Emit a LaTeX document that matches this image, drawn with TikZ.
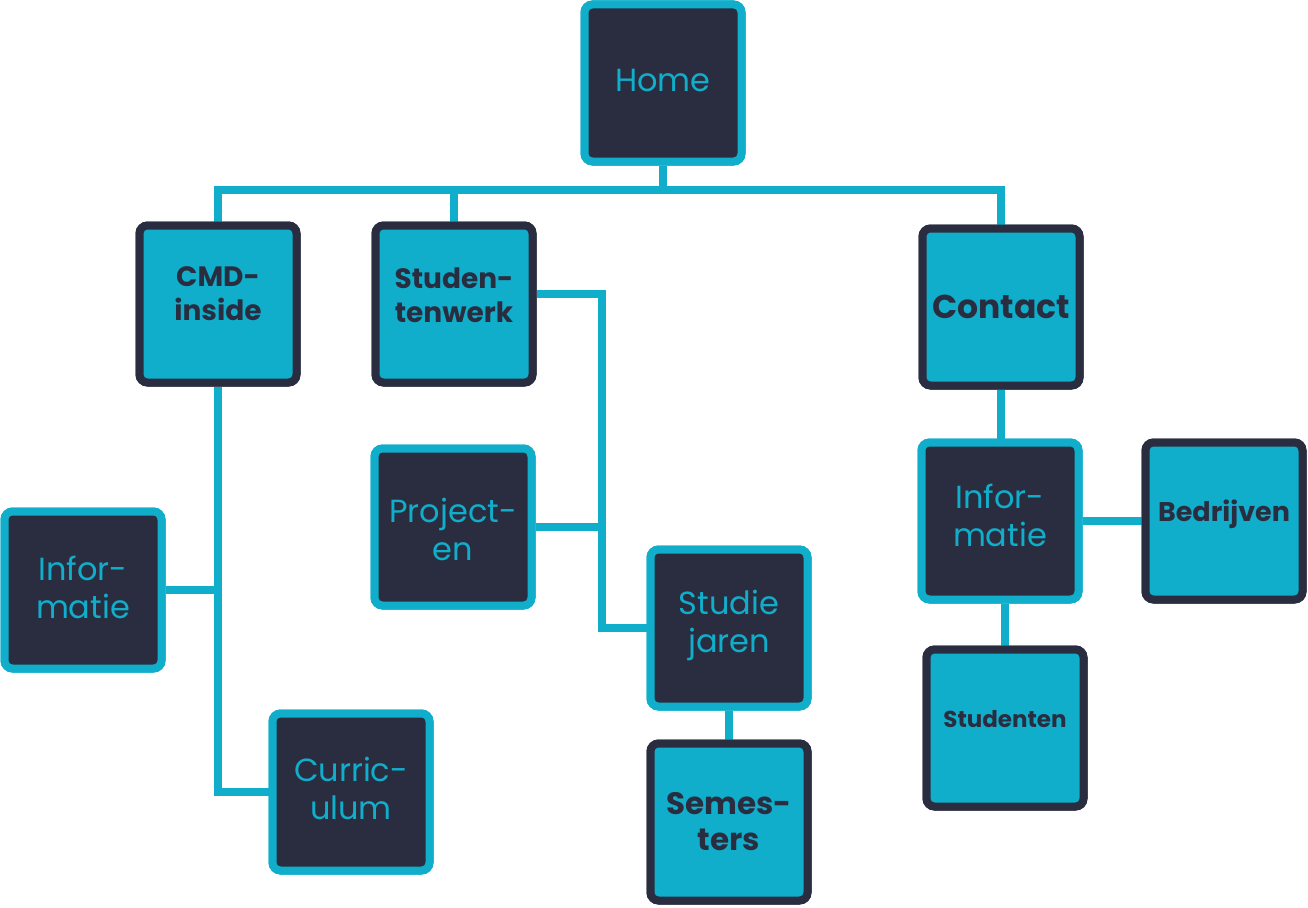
\documentclass[tikz,border=0pt]{standalone}
\usepackage{fontspec}
\setmainfont{Poppins}
\definecolor{cy}{HTML}{10AECB}
\definecolor{dk}{HTML}{2A2D40}
\begin{document}
\begin{tikzpicture}[x=1pt,y=-1pt,
  box/.style={rectangle,rounded corners=8pt,line width=8pt,minimum width=157pt,minimum height=157pt,inner sep=0pt},
  darkbox/.style={box,fill=dk,draw=cy},
  cybox/.style={box,fill=cy,draw=dk},
  lt/.style={text=cy,align=center,font=\fontsize{32}{38}\selectfont,inner sep=0pt},
  bt/.style={text=dk,align=center,font=\bfseries\fontsize{28}{34}\selectfont,inner sep=0pt},
  conn/.style={draw=cy,line width=8pt}]
\fill[white] (0,0) rectangle (1308,907);
\useasboundingbox (0,0) rectangle (1308,907);
% box positions
\node[darkbox] (home) at (663,83) {};
\node[cybox] (cmd) at (218,304) {};
\node[cybox] (stw) at (454,304) {};
\node[cybox] (contact) at (1001,307) {};
\node[darkbox] (info1) at (83,590) {};
\node[darkbox] (proj) at (453,527) {};
\node[darkbox] (sj) at (729,628) {};
\node[cybox] (sem) at (729,822) {};
\node[darkbox] (curr) at (351,792) {};
\node[darkbox] (info2) at (1000,521) {};
\node[cybox] (bedr) at (1224,521) {};
\node[cybox] (stud) at (1005,728) {};
% connectors
\coordinate (busy) at (0,190);
\path[conn] (cmd.north) -- (cmd.north |- busy) -- (contact.north |- busy) -- (contact.north);
\path[conn] (stw.north) -- (stw.north |- busy);
\path[conn] (home.south) -- (home.south |- busy);
\path[conn] (cmd.south) |- (curr.west);
\path[conn] (info1.east) -- (info1.east -| cmd.south);
\path[conn] ([yshift=10pt]stw.east) -- ++(65,0) coordinate (vx) |- (sj.west);
\path[conn] (proj.east) -- (proj.east -| vx);
\path[conn] (sj.south) -- (sem.north);
\path[conn] (contact.south) -- (contact.south |- info2.north);
\path[conn] (info2.east) -- (bedr.west);
\path[conn] (stud.north |- info2.south) -- (stud.north);
% boxes on top of connectors
\node[darkbox] at (home) {};
\node[cybox] at (cmd) {};
\node[cybox] at (stw) {};
\node[cybox] at (contact) {};
\node[darkbox] at (info1) {};
\node[darkbox] at (proj) {};
\node[darkbox] at (sj) {};
\node[cybox] at (sem) {};
\node[darkbox] at (curr) {};
\node[darkbox] at (info2) {};
\node[cybox] at (bedr) {};
\node[cybox] at (stud) {};
% texts
\node[lt] (thome) at ([yshift=3pt]home.center) {Home};
\node[bt] (tcmd) at ([yshift=10pt]cmd.center) {CMD-\\inside};
\node[bt] (tstw) at ([yshift=9pt]stw.center) {Studen-\\tenwerk};
\node[bt,font=\bfseries\fontsize{33}{38}\selectfont] (tcontact) at (contact.center) {Contact};
\node[lt] (tinfo1) at ([yshift=3pt]info1.center) {Infor-\\matie};
\node[lt] (tproj) at ([yshift=-2pt]proj.center) {Project-\\en};
\node[lt] (tsj) at ([yshift=3pt]sj.center) {Studie\\jaren};
\node[bt,font=\bfseries\fontsize{31}{36}\selectfont] (tsem) at (sem.center) {Semes-\\ters};
\node[lt] (tcurr) at ([yshift=4pt]curr.center) {Curric-\\ulum};
\node[lt] (tinfo2) at ([yshift=6pt]info2.center) {Infor-\\matie};
\node[bt,font=\bfseries\fontsize{27}{32}\selectfont] (tbedr) at ([yshift=7pt]bedr.center) {Bedrijven};
\node[bt,font=\bfseries\fontsize{23}{28}\selectfont] (tstud) at ([yshift=9pt]stud.center) {Studenten};
\end{tikzpicture}
\end{document}
